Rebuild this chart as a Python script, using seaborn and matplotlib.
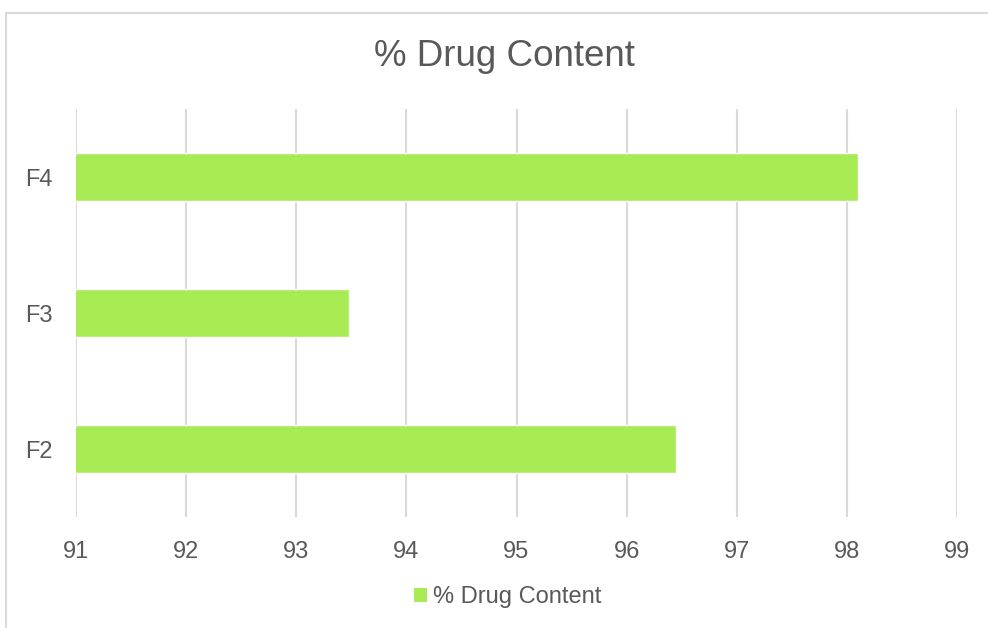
import matplotlib
matplotlib.use("Agg")
import matplotlib.pyplot as plt
import seaborn as sns
import pandas as pd
from matplotlib.patches import Rectangle, Patch

categories = ["F4", "F3", "F2"]
values = [98.10, 93.48, 96.45]
series_name = "% Drug Content"
xticks = [91, 92, 93, 94, 95, 96, 97, 98, 99]

df = pd.DataFrame({"Formulation": categories, "Value": values})

sns.set_style("white")
plt.rcParams["font.family"] = ["Liberation Sans", "DejaVu Sans"]

W, H = 988, 628
fig = plt.figure(figsize=(W / 100, H / 100), dpi=100)
ax = fig.add_axes([76 / W, 1 - 517 / H, (957 - 76) / W, (517 - 109) / H])

color = "#A9EB55"
sns.barplot(data=df, x="Value", y="Formulation", order=categories, orient="h",
            color=color, saturation=1, width=0.36, ax=ax)

ax.set_xlim(91, 99)
ax.set_ylim(2.5, -0.5)
ax.set_xticks(xticks)
ax.set_xticklabels([str(t) for t in xticks])
ax.grid(axis="x", color="#D9D9D9", linewidth=1.5)
ax.set_axisbelow(True)
for s in ax.spines.values():
    s.set_visible(False)
ax.tick_params(axis="both", length=0, labelsize=17, colors="#595959")
ax.tick_params(axis="x", pad=17)
ax.tick_params(axis="y", pad=17)
ax.set_xlabel("")
ax.set_ylabel("")

fig.text(504.5 / W, 1 - 57 / H, series_name, ha="center", va="center",
         fontsize=26.5, color="#595959")

fig.legend(handles=[Patch(facecolor=color, edgecolor="none", label=series_name)],
           loc="center", bbox_to_anchor=(508 / W, 1 - 597 / H), frameon=False,
           fontsize=17, labelcolor="#595959", handlelength=0.55, handleheight=0.55,
           handletextpad=0.25)

fig.patches.append(Rectangle((5.5 / W, -0.1), 2, (H - 12.5) / H + 0.1,
                             transform=fig.transFigure, fill=False,
                             edgecolor="#D9D9D9", linewidth=1.5))

fig.savefig("out.png", dpi=100)
